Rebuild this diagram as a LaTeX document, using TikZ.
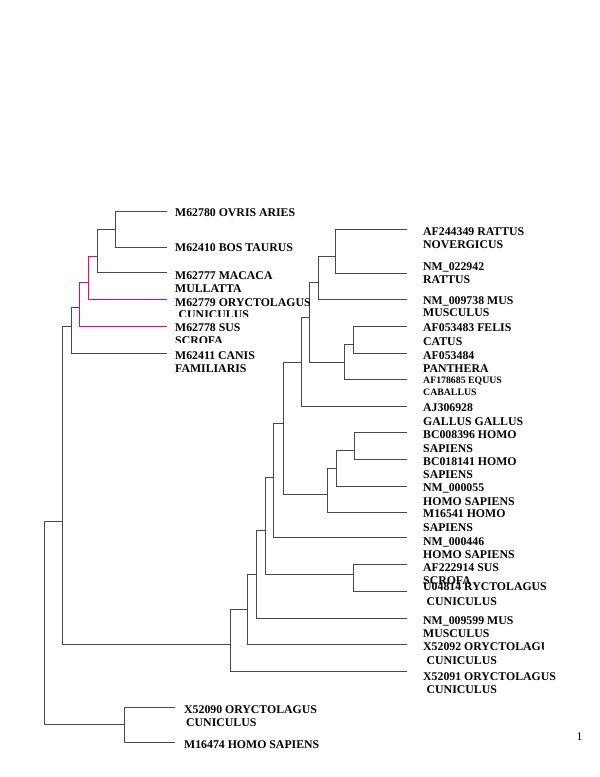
\documentclass[tikz,border=0pt]{standalone}
\usepackage{fontspec}
\setmainfont{Liberation Serif}
\begin{document}
\begin{tikzpicture}[x=1pt,y=-1pt,
  br/.style={draw=black!72, line width=0.75pt},
  mg/.style={draw=magenta, line width=0.75pt},
  lbl/.style={anchor=base west, inner sep=0pt, font=\fontsize{11.8}{13.3}\selectfont\bfseries},
  slbl/.style={anchor=base west, inner sep=0pt, font=\fontsize{9.8}{11.5}\selectfont\bfseries},
  pg/.style={anchor=base west, inner sep=0pt, font=\fontsize{11.8}{13.3}\selectfont}]
\fill[white] (0,0) rectangle (600,777);
\useasboundingbox (0,0) rectangle (600,777);

% ---------- internal nodes ----------
\coordinate (A) at (115,229);
\coordinate (B) at (97,256);
\coordinate (C) at (88,282);
\coordinate (D) at (79,307);
\coordinate (E) at (71,326);
\coordinate (F) at (62,521);
\coordinate (Root) at (44,521);
\coordinate (G) at (124,724);
\coordinate (H) at (230,644);
\coordinate (I) at (247,609);
\coordinate (J) at (256,574);
\coordinate (K) at (265,530);
\coordinate (L) at (353,574);
\coordinate (M) at (273,477);
\coordinate (N) at (283,423);
\coordinate (N2) at (301,362);
\coordinate (R3) at (309,317);
\coordinate (R2) at (318,282);
\coordinate (R1) at (335,256);
\coordinate (C2) at (344,362);
\coordinate (C1) at (353,344);
\coordinate (O) at (327,494);
\coordinate (P) at (336,468);
\coordinate (Q) at (354,450);

% ---------- leaf ends ----------
\coordinate (tOvris) at (167,211);
\coordinate (tBos) at (167,247);
\coordinate (tMacaca) at (167,272);
\coordinate (tOry1) at (167,299);
\coordinate (tSus1) at (167,326);
\coordinate (tCanis) at (167,353);
\coordinate (tX52090) at (175,707);
\coordinate (tM16474) at (175,742);
\coordinate (tAF244) at (407,229);
\coordinate (tNM022) at (407,273);
\coordinate (tNM0097) at (407,299);
\coordinate (tAF0534) at (407,326);
\coordinate (tAF0535) at (407,353);
\coordinate (tAF178) at (407,379);
\coordinate (tAJ) at (407,406);
\coordinate (tBC008) at (407,432);
\coordinate (tBC018) at (407,459);
\coordinate (tNM055) at (407,486);
\coordinate (tM16541) at (407,512);
\coordinate (tNM446) at (407,537);
\coordinate (tAF222) at (407,564);
\coordinate (tU048) at (407,591);
\coordinate (tNM599) at (407,618);
\coordinate (tX92) at (407,644);
\coordinate (tX91) at (407,671);

% ---------- branches ----------
\draw[br] (A) |- (tOvris);  \draw[br] (A) |- (tBos);
\draw[br] (B) |- (A);       \draw[br] (B) |- (tMacaca);
\draw[mg] (C) |- (B);       \draw[mg] (C) |- (tOry1);
\draw[mg] (D) |- (C);       \draw[mg] (D) |- (tSus1);
\draw[br] (E) |- (D);       \draw[br] (E) |- (tCanis);
\draw[br] (F) |- (E);       \draw[br] (F) |- (H);
\draw[br] (Root) |- (F);    \draw[br] (Root) |- (G);
\draw[br] (G) |- (tX52090); \draw[br] (G) |- (tM16474);
\draw[br] (H) |- (I);       \draw[br] (H) |- (tX91);
\draw[br] (I) |- (J);       \draw[br] (I) |- (tX92);
\draw[br] (J) |- (K);       \draw[br] (J) |- (tNM599);
\draw[br] (K) |- (M);       \draw[br] (K) |- (L);
\draw[br] (L) |- (tAF222);  \draw[br] (L) |- (tU048);
\draw[br] (M) |- (N);       \draw[br] (M) |- (tNM446);
\draw[br] (N) |- (N2);      \draw[br] (N) |- (O);
\draw[br] (N2) |- (R3);     \draw[br] (N2) |- (tAJ);
\draw[br] (R3) |- (R2);     \draw[br] (R3) |- (C2);
\draw[br] (R2) |- (R1);     \draw[br] (R2) |- (tNM0097);
\draw[br] (R1) |- (tAF244); \draw[br] (R1) |- (tNM022);
\draw[br] (C2) |- (C1);     \draw[br] (C2) |- (tAF178);
\draw[br] (C1) |- (tAF0534);\draw[br] (C1) |- (tAF0535);
\draw[br] (O) |- (P);       \draw[br] (O) |- (tM16541);
\draw[br] (P) |- (Q);       \draw[br] (P) |- (tNM055);
\draw[br] (Q) |- (tBC008);  \draw[br] (Q) |- (tBC018);

% ---------- left labels ----------
\node[lbl] (l1) at (175,216.5) {M62780 OVRIS ARIES};
\node[lbl] (l2) at (175,251) {M62410 BOS TAURUS};
\node[lbl] (l3) at (175,279) {M62777 MACACA};
\node[lbl] (l3b) at (175,292.5) {MULLATTA};
\node[lbl] (l4) at (175,306.5) {M62779 ORYCTOLAGUS};
\begin{scope}
  \clip (170,300) rectangle (330,316.8);
  \node[lbl] (l4b) at (178.5,318.8) {CUNICULUS};
\end{scope}
\node[lbl] (l5) at (175,331.7) {M62778 SUS};
\begin{scope}
  \clip (170,333) rectangle (330,342);
  \node[lbl] (l5b) at (175,344.6) {SCROFA};
\end{scope}
\node[lbl] (l6) at (175,359) {M62411 CANIS};
\node[lbl] (l6b) at (175,372.3) {FAMILIARIS};

\node[lbl] (l7) at (184,713) {X52090 ORYCTOLAGUS};
\node[lbl] (l7b) at (186,726.5) {CUNICULUS};
\node[lbl] (l8) at (184,748) {M16474 HOMO SAPIENS};

% ---------- right labels ----------
\node[lbl] (r1) at (423,235.7) {AF244349 RATTUS};
\node[lbl] (r1b) at (423,248.5) {NOVERGICUS};
\node[lbl] (r2) at (423,270) {NM\_022942};
\node[lbl] (r2b) at (423,283.3) {RATTUS};
\node[lbl] (r3) at (423,304) {NM\_009738 MUS};
\node[lbl] (r3b) at (423,316.7) {MUSCULUS};
\node[lbl] (r4) at (423,331.7) {AF053483 FELIS};
\node[lbl] (r4b) at (423,345.5) {CATUS};
\node[lbl] (r5) at (423,359) {AF053484};
\node[lbl] (r5b) at (423,372.3) {PANTHERA};
\node[slbl] (r6) at (423,383.3) {AF178685 EQUUS};
\node[slbl] (r6b) at (423,395) {CABALLUS};
\node[lbl] (r7) at (423,411.7) {AJ306928};
\node[lbl] (r7b) at (423,425.5) {GALLUS GALLUS};
\node[lbl] (r8) at (423,438.3) {BC008396 HOMO};
\node[lbl] (r8b) at (423,452) {SAPIENS};
\node[lbl] (r9) at (423,465) {BC018141 HOMO};
\node[lbl] (r9b) at (423,478.3) {SAPIENS};
\node[lbl] (r10) at (423,491.7) {NM\_000055};
\node[lbl] (r10b) at (423,505) {HOMO SAPIENS};
\node[lbl] (r11) at (423,517.7) {M16541 HOMO};
\node[lbl] (r11b) at (423,531.5) {SAPIENS};
\node[lbl] (r12) at (423,545) {NM\_000446};
\node[lbl] (r12b) at (423,558.3) {HOMO SAPIENS};
\node[lbl] (r13) at (423,571.5) {AF222914 SUS};
\node[lbl] (r13b) at (423,584) {SCROFA};
\node[lbl] (r14) at (423,590) {U04814 RYCTOLAGUS};
\node[lbl] (r14b) at (426.5,605) {CUNICULUS};
\node[lbl] (r15) at (423,624.3) {NM\_009599 MUS};
\node[lbl] (r15b) at (423,637.7) {MUSCULUS};
\begin{scope}
  \clip (415,635) rectangle (543.3,655);
  \node[lbl] (r16) at (423,650) {X52092 ORYCTOLAGUS};
\end{scope}
\node[lbl] (r16b) at (426.5,664.3) {CUNICULUS};
\node[lbl] (r17) at (423,680) {X52091 ORYCTOLAGUS};
\node[lbl] (r17b) at (426.5,693.3) {CUNICULUS};

\node[pg] (pnum) at (576.5,740) {1};
\end{tikzpicture}
\end{document}
